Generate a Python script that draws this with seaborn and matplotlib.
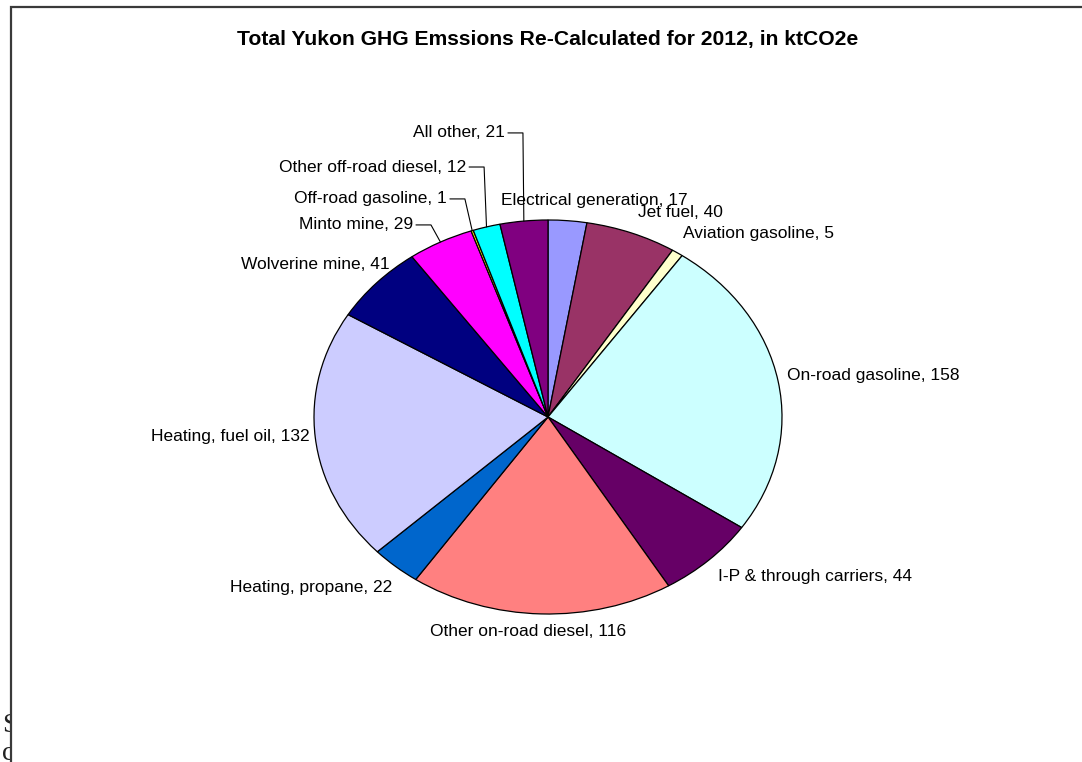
import numpy as np
import seaborn as sns
import matplotlib.pyplot as plt
from matplotlib.patches import Rectangle

# ---------------------- Data ------------------------
categories = ["Electrical generation", "Jet fuel", "Aviation gasoline", "On-road gasoline",
              "I-P & through carriers", "Other on-road diesel", "Heating, propane",
              "Heating, fuel oil", "Wolverine mine", "Minto mine", "Off-road gasoline",
              "Other off-road diesel", "All other"]
values = [17, 40, 5, 158, 44, 116, 22, 132, 41, 29, 1, 12, 21]
colors = ["#9999FF", "#993366", "#FFFFCC", "#CCFFFF", "#660066", "#FF8080", "#0066CC",
          "#CCCCFF", "#000080", "#FF00FF", "#FFFF00", "#00FFFF", "#800080"]

# label anchor (x, y, ha) in pie units, and whether a leader line is drawn
label_layout = [(0.20, 1.10, "center"), (0.385, 1.04, "left"), (0.577, 0.93, "left"),
                (1.02, 0.21, "left"), (0.726, -0.81, "left"), (-0.085, -1.09, "center"),
                (-0.667, -0.863, "right"), (-1.017, -0.10, "right"), (-0.675, 0.772, "right"),
                (-0.577, 0.975, "right"), (-0.432, 1.107, "right"), (-0.350, 1.269, "right"),
                (-0.184, 1.442, "right")]
leaders = [False, False, False, False, False, False, False, False, False, True, True, True, True]

# ------------------ Style ----------------------
sns.set_theme(style="white")
plt.rcParams["font.family"] = ["Liberation Sans", "DejaVu Sans"]

W, H = 1082, 762
fig = plt.figure(figsize=(W / 100, H / 100), dpi=100)

# clipped source text at bottom-left, then the white chart frame over it
fig.text(2 / W, 1 - 732 / H, "Source", family="Liberation Serif", fontsize=20,
         color="#222222", zorder=-3)
fig.text(2 / W, 1 - 760 / H, "co", family="Liberation Serif", fontsize=20,
         color="#222222", zorder=-3)
fig.patches.append(Rectangle((11 / W, -0.1), 1.2, 1.1 - 7 / H, transform=fig.transFigure,
                             facecolor="white", edgecolor="#3a3a3a", linewidth=1.6,
                             zorder=-2))

fig.text(548 / W, 1 - 40 / H, "Total Yukon GHG Emssions Re-Calculated for 2012, in ktCO2e",
         ha="center", va="center", fontsize=15.2, fontweight="bold", color="black")

# pie axes: unit circle stretched into the ellipse seen in the chart
ax = fig.add_axes([314 / W, 1 - 614 / H, 468 / W, 394 / H])
wedges, _ = ax.pie(values, colors=colors, startangle=90, counterclock=False,
                   wedgeprops=dict(edgecolor="black", linewidth=0.9))
ax.set_aspect("auto")
ax.set_xlim(-1, 1)
ax.set_ylim(-1, 1)
ax.axis("off")

px = 2 / 468  # one pixel in pie x units
for w, name, val, (x, y, ha), lead in zip(wedges, categories, values, label_layout, leaders):
    ax.text(x, y, f"{name}, {val}", ha=ha, va="center", fontsize=12.5, color="black")
    if lead:
        mid = np.deg2rad((w.theta1 + w.theta2) / 2)
        ex, ey = np.cos(mid), np.sin(mid)
        ax.plot([x + 3 * px, x + 18 * px, ex], [y, y, ey], color="black",
                linewidth=0.8, clip_on=False)

fig.savefig("out.png", dpi=100)
